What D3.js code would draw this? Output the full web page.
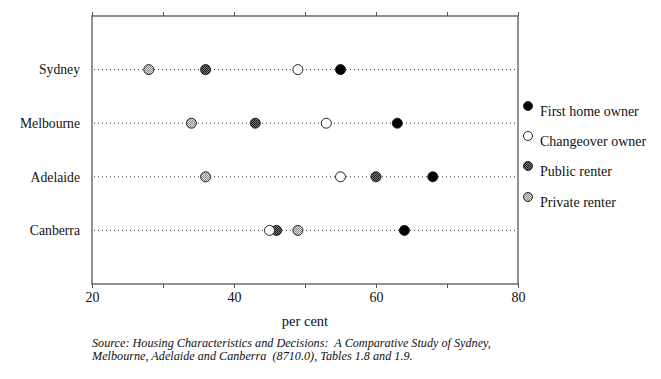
<!DOCTYPE html>
<html><head><meta charset="utf-8">
<script src="https://cdn.jsdelivr.net/npm/d3@7"></script>
<style>body{margin:0;background:#fff}svg{display:block}text{font-family:"Liberation Serif","Times New Roman",serif;fill:#111}</style>
</head><body>
<script>
const cities = ["Sydney", "Melbourne", "Adelaide", "Canberra"];
const seriesNames = ["First home owner", "Changeover owner", "Public renter", "Private renter"];
const firstHome = [55, 63, 68, 64];
const changeover = [49, 53, 55, 45];
const publicRenter = [36, 43, 60, 46];
const privateRenter = [28, 34, 36, 49];
const xTicks = [20, 40, 60, 80];
const xMinorTicks = [20, 30, 40, 50, 60, 70, 80];
const sourceLines = ["Source: Housing Characteristics and Decisions:  A Comparative Study of Sydney,",
  "Melbourne, Adelaide and Canberra  (8710.0), Tables 1.8 and 1.9."];

(function () {
const W = 661, H = 379;
const m = {l: 92, r: 518, t: 16, b: 284};
const svg = d3.select("body").append("svg").attr("width", W).attr("height", H);
const defs = svg.append("defs");
function pat(id, bg, fg) {
  const p = defs.append("pattern").attr("id", id).attr("width", 2).attr("height", 2).attr("patternUnits", "userSpaceOnUse");
  p.append("rect").attr("width", 2).attr("height", 2).attr("fill", bg);
  p.append("rect").attr("width", 1).attr("height", 1).attr("fill", fg);
  p.append("rect").attr("x", 1).attr("y", 1).attr("width", 1).attr("height", 1).attr("fill", fg);
}
pat("pubPat", "#777", "#1a1a1a");
pat("privPat", "#e0e0e0", "#8a8a8a");
const fills = ["#000", "#fff", "url(#pubPat)", "url(#privPat)"];
const allSeries = [firstHome, changeover, publicRenter, privateRenter];

const x = d3.scaleLinear().domain([20, 80]).range([m.l, m.r]);
const y = d3.scalePoint().domain(cities).range([m.t, m.b]).padding(1);

svg.append("rect").attr("x", m.l).attr("y", m.t).attr("width", m.r - m.l).attr("height", m.b - m.t)
  .attr("fill", "none").attr("stroke", "#555").attr("stroke-width", 1.3);

const gBottom = svg.append("g").attr("transform", `translate(0,${m.b})`)
  .call(d3.axisBottom(x).tickValues(xMinorTicks).tickSize(4).tickFormat(""));
const gTop = svg.append("g").attr("transform", `translate(0,${m.t})`)
  .call(d3.axisTop(x).tickValues(xMinorTicks).tickSize(4).tickFormat(""));
[gBottom, gTop].forEach(g => { g.select(".domain").remove(); g.selectAll("line").attr("stroke", "#555"); });
const labs = svg.append("g").attr("transform", `translate(0,${m.b})`)
  .call(d3.axisBottom(x).tickValues(xTicks).tickSize(0).tickPadding(8).tickFormat(d3.format("d")));
labs.select(".domain").remove();
labs.selectAll("text").attr("font-size", 14).attr("font-family", "Liberation Serif, serif").attr("fill", "#111");

const yl = svg.append("g").attr("transform", `translate(${m.l - 12},0)`)
  .call(d3.axisLeft(y).tickSize(0).tickPadding(0));
yl.select(".domain").remove();
yl.selectAll("text").attr("font-size", 13.7).attr("font-family", "Liberation Serif, serif").attr("fill", "#111");

svg.append("g").selectAll("line").data(cities).join("line")
  .attr("x1", m.l + 2).attr("x2", m.r - 2).attr("y1", d => y(d)).attr("y2", d => y(d))
  .attr("stroke", "#333").attr("stroke-width", 1).attr("stroke-dasharray", "1,3");

[3, 2, 1, 0].forEach(si => {
  svg.append("g").selectAll("circle").data(allSeries[si]).join("circle")
    .attr("cx", d => x(d)).attr("cy", (d, i) => y(cities[i])).attr("r", 5)
    .attr("fill", fills[si]).attr("stroke", "#222").attr("stroke-width", 1);
});

const legY = [106, 136, 166, 197];
const lg = svg.append("g");
seriesNames.forEach((n, i) => {
  lg.append("circle").attr("cx", 528).attr("cy", legY[i]).attr("r", 4.5)
    .attr("fill", fills[i]).attr("stroke", "#222").attr("stroke-width", 1);
  lg.append("text").attr("x", 540).attr("y", legY[i] + 10).attr("font-size", 14).text(n);
});

svg.append("text").attr("x", (m.l + m.r) / 2 + 0).attr("y", 326).attr("text-anchor", "middle")
  .attr("font-size", 14.5).text("per cent");
svg.append("g").selectAll("text").data(sourceLines).join("text")
  .attr("x", 92).attr("y", (d, i) => 347 + i * 13).attr("font-size", 12.2).attr("font-style", "italic")
  .style("white-space", "pre").text(d => d);
})();
</script>
</body></html>
